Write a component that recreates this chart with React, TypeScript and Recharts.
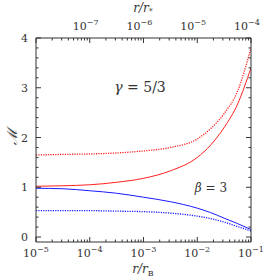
import React from 'react';
import { LineChart, Line, XAxis, YAxis } from 'recharts';

// r / r_B sample positions
const R_RB = [1e-5, 3.16e-5, 1e-4, 3.16e-4, 1e-3, 3.16e-3, 1e-2, 1.78e-2, 3.16e-2, 5.62e-2, 1e-1];

// Mach number curves
const RED_SOLID = [1.02, 1.03, 1.05, 1.10, 1.18, 1.33, 1.60, 1.85, 2.20, 2.67, 3.40];
const RED_DOTTED = [1.65, 1.66, 1.67, 1.69, 1.73, 1.80, 1.97, 2.18, 2.48, 2.93, 3.80];
const BLUE_SOLID = [0.98, 0.97, 0.93, 0.88, 0.80, 0.71, 0.58, 0.49, 0.38, 0.27, 0.15];
const BLUE_DOTTED = [0.53, 0.53, 0.53, 0.52, 0.51, 0.48, 0.42, 0.37, 0.30, 0.21, 0.12];

const BOTTOM_EXP = [-5, -4, -3, -2, -1];
const TOP_EXP = [-8, -7, -6, -5, -4];
const TOP_LABELED = [-7, -6, -5, -4];
const Y_MAJOR = [0, 1, 2, 3, 4];

const W = 271;
const H = 278;
const FONT = '"DejaVu Serif"';
const INK = '#333';

const logTicks = (exps: number[]) => {
    const out: number[] = [];
    exps.forEach((e, i) => {
        if (i === exps.length - 1) {
            out.push(Math.pow(10, e));
            return;
        }
        for (let m = 1; m < 10; m++) out.push(m * Math.pow(10, e));
    });
    return out;
};

const isDecade = (v: number) => Math.abs(Math.log10(v) - Math.round(Math.log10(v))) < 1e-6;

const yTicks: number[] = [];
for (let i = 0; i <= 20; i++) yTicks.push(Math.round(i * 2) / 10);

const data = R_RB.map((r, i) => ({
    r,
    rs: r * 1e-3,
    redSolid: RED_SOLID[i],
    redDotted: RED_DOTTED[i],
    blueSolid: BLUE_SOLID[i],
    blueDotted: BLUE_DOTTED[i],
}));

const txt = { fontFamily: FONT };

const Pow = ({ x, y, exp }: { x: number; y: number; exp: number }) => (
    <text x={x} y={y} textAnchor="middle" style={txt} fontSize={11} fill={INK}>
        <tspan>10</tspan>
        <tspan dy={-5} fontSize={8}>{'\u2212' + Math.abs(exp)}</tspan>
    </text>
);

const BottomTick = (props: any) => {
    const { x, y, payload } = props;
    const major = isDecade(payload.value);
    return (
        <g>
            <line x1={x} x2={x} y1={y} y2={y - (major ? 5 : 2.5)} stroke={INK} />
            {major && <Pow x={x} y={y + 15} exp={Math.round(Math.log10(payload.value))} />}
        </g>
    );
};

const TopTick = (props: any) => {
    const { x, y, payload } = props;
    const major = isDecade(payload.value);
    const e = Math.round(Math.log10(payload.value));
    return (
        <g>
            <line x1={x} x2={x} y1={y} y2={y + (major ? 5 : 2.5)} stroke={INK} />
            {major && TOP_LABELED.includes(e) && <Pow x={x - 4} y={y - 8} exp={e} />}
        </g>
    );
};

const LeftTick = (props: any) => {
    const { x, y, payload } = props;
    const major = Y_MAJOR.includes(payload.value);
    return (
        <g>
            <line x1={x} x2={x + (major ? 5 : 2.5)} y1={y} y2={y} stroke={INK} />
            {major && (
                <text x={x - 8} y={y + 4} textAnchor="end" style={txt} fontSize={11} fill={INK}>
                    {payload.value}
                </text>
            )}
        </g>
    );
};

const RightTick = (props: any) => {
    const { x, y, payload } = props;
    const major = Y_MAJOR.includes(payload.value);
    return <line x1={x} x2={x - (major ? 5 : 2.5)} y1={y} y2={y} stroke={INK} />;
};

export default function App() {
    return (
        <div style={{ position: 'absolute', left: 0, top: 0, width: W, height: H, background: '#fff', fontFamily: FONT }}>
            <LineChart width={W} height={H} data={data} margin={{ top: 0, right: 0, bottom: 0, left: 0 }}>
                <XAxis
                    xAxisId="b"
                    dataKey="r"
                    type="number"
                    scale="log"
                    domain={[1e-5, 1e-1]}
                    ticks={logTicks(BOTTOM_EXP)}
                    interval={0}
                    allowDataOverflow
                    height={36}
                    tickSize={0}
                    tickMargin={0}
                    tickLine={false}
                    tick={BottomTick}
                    axisLine={{ stroke: INK }}
                />
                <XAxis
                    xAxisId="t"
                    dataKey="rs"
                    orientation="top"
                    type="number"
                    scale="log"
                    domain={[1e-8, 1e-4]}
                    ticks={logTicks(TOP_EXP)}
                    interval={0}
                    allowDataOverflow
                    height={38}
                    tickSize={0}
                    tickMargin={0}
                    tickLine={false}
                    tick={TopTick}
                    axisLine={{ stroke: INK }}
                />
                <YAxis
                    yAxisId="l"
                    type="number"
                    domain={[-0.1, 4]}
                    ticks={yTicks}
                    interval={0}
                    allowDataOverflow
                    width={36}
                    tickSize={0}
                    tickMargin={0}
                    tickLine={false}
                    tick={LeftTick}
                    axisLine={{ stroke: INK }}
                />
                <YAxis
                    yAxisId="r"
                    orientation="right"
                    type="number"
                    domain={[-0.1, 4]}
                    ticks={yTicks}
                    interval={0}
                    allowDataOverflow
                    width={20}
                    tickSize={0}
                    tickMargin={0}
                    tickLine={false}
                    tick={RightTick}
                    axisLine={{ stroke: INK }}
                />
                <Line xAxisId="b" yAxisId="l" type="monotone" dataKey="redDotted" stroke="#ff2020" strokeWidth={1.3} strokeDasharray="1.2 1.2" dot={false} isAnimationActive={false} />
                <Line xAxisId="b" yAxisId="l" type="monotone" dataKey="redSolid" stroke="#ff2020" strokeWidth={1} dot={false} isAnimationActive={false} />
                <Line xAxisId="b" yAxisId="l" type="monotone" dataKey="blueDotted" stroke="#1a1aff" strokeWidth={1.3} strokeDasharray="1.2 1.2" dot={false} isAnimationActive={false} />
                <Line xAxisId="b" yAxisId="l" type="monotone" dataKey="blueSolid" stroke="#1a1aff" strokeWidth={1} dot={false} isAnimationActive={false} />
            </LineChart>
            <svg width={W} height={H} style={{ position: 'absolute', left: 0, top: 0, pointerEvents: 'none' }}>
                <g style={txt} fill={INK}>
                    <text x={143} y={12} textAnchor="middle" fontSize={12} fontStyle="italic">
                        r/r<tspan dy={2} fontSize={8} fontStyle="normal">*</tspan>
                    </text>
                    <text x={143} y={273} textAnchor="middle" fontSize={12} fontStyle="italic">
                        r/r<tspan dy={3} fontSize={8} fontStyle="normal">B</tspan>
                    </text>
                    <text x={0} y={0} transform="translate(17 137) rotate(-90)" textAnchor="middle" fontSize={14} fontStyle="italic">
                        {'\u2133'}
                    </text>
                    <text x={140} y={92} textAnchor="middle" fontSize={14}>
                        <tspan fontStyle="italic">γ</tspan> = 5/3
                    </text>
                    <text x={211} y={192} textAnchor="middle" fontSize={12}>
                        <tspan fontStyle="italic">β</tspan> = 3
                    </text>
                </g>
            </svg>
        </div>
    );
}
